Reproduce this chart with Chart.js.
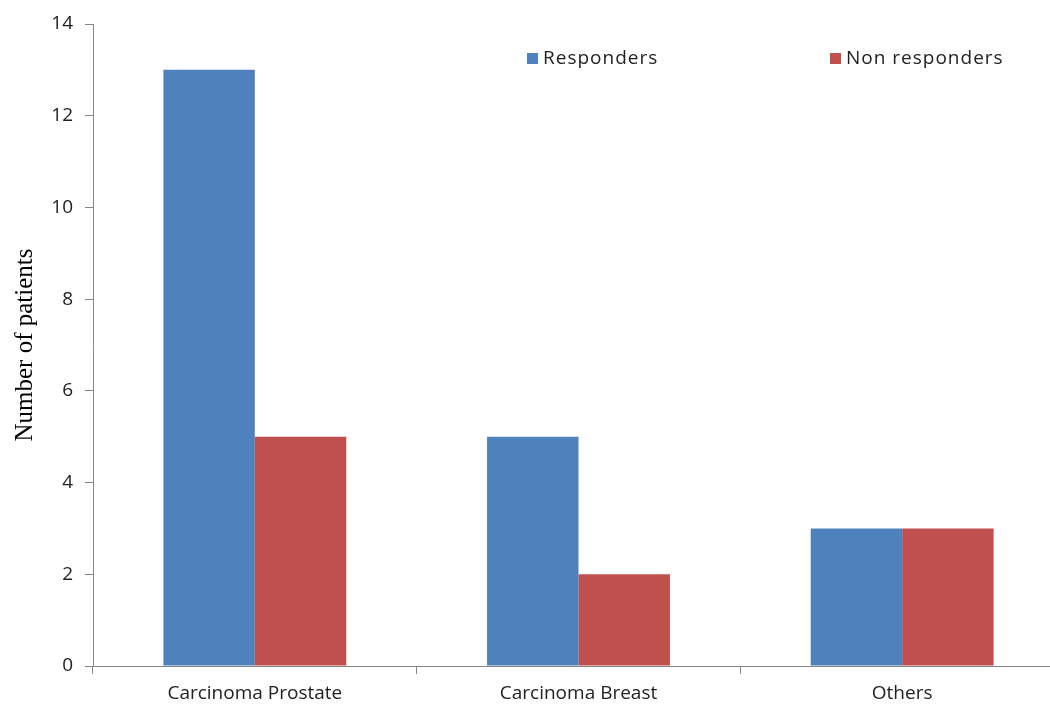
<!DOCTYPE html>
<html>
<head>
<meta charset="utf-8">
<script src="https://cdn.jsdelivr.net/npm/chart.js@4"></script>
<style>
  html, body { margin: 0; padding: 0; background: #fff; overflow: hidden; }
  #wrap { position: relative; width: 1070px; height: 706px; }
  .legend-item { position: absolute; top: 44px; font: 19px "Open Sans", sans-serif; letter-spacing: 1px; color: #222; white-space: nowrap; }
  .legend-item span { display: inline-block; width: 11px; height: 11px; margin-right: 5px; vertical-align: 0px; }
</style>
</head>
<body>
<div id="wrap">
  <canvas id="myChart" width="1070" height="706"></canvas>
</div>
<script>
(() => {
  // Chart data
  const categories = ['Carcinoma Prostate', 'Carcinoma Breast', 'Others'];
  const responders = [13, 5, 3];
  const nonResponders = [5, 2, 3];
  const yTicks = [0, 2, 4, 6, 8, 10, 12, 14];
  const seriesNames = ['Responders', 'Non responders'];
  const seriesColors = ['#4F81BD', '#C0504D'];

  const axisColor = '#868686';
  const tickFont = { family: '"Open Sans", sans-serif', size: 19 };

  let ctx = document.getElementById('myChart').getContext('2d');

  new Chart(ctx, {
    type: 'bar',
    data: {
      labels: categories,
      datasets: [
        { label: seriesNames[0], data: responders, backgroundColor: seriesColors[0] },
        { label: seriesNames[1], data: nonResponders, backgroundColor: seriesColors[1] }
      ]
    },
    options: {
      responsive: false,
      animation: false,
      categoryPercentage: 0.565,
      barPercentage: 1,
      layout: { padding: { top: 24, right: 6, left: 0, bottom: 0 } },
      plugins: {
        legend: { display: false },
        tooltip: { enabled: false }
      },
      scales: {
        x: {
          grid: { offset: true, drawOnChartArea: false, color: axisColor, tickLength: 8 },
          border: { color: axisColor },
          ticks: { color: '#222', font: tickFont, padding: 8, maxRotation: 0 },
          afterFit(scale) { scale.height = 40; }
        },
        y: {
          min: 0,
          max: 14,
          afterBuildTicks(scale) { scale.ticks = yTicks.map(v => ({ value: v })); },
          grid: { drawOnChartArea: false, color: axisColor, tickLength: 8 },
          border: { color: axisColor },
          ticks: { color: '#222', font: tickFont, padding: 12 },
          title: {
            display: true,
            text: 'Number of patients',
            color: '#000',
            font: { family: '"Liberation Serif", serif', size: 25 },
            padding: { top: 10, bottom: 0 }
          },
          afterFit(scale) { scale.width = 93; }
        }
      }
    }
  });

  // Legend placed where the original puts it
  const legendLeft = [527, 830];
  const wrap = document.getElementById('wrap');
  seriesNames.forEach((name, i) => {
    const item = document.createElement('div');
    item.className = 'legend-item';
    item.style.left = legendLeft[i] + 'px';
    item.innerHTML = '<span style="background:' + seriesColors[i] + '"></span>' + name;
    wrap.appendChild(item);
  });
})();
</script>
</body>
</html>
